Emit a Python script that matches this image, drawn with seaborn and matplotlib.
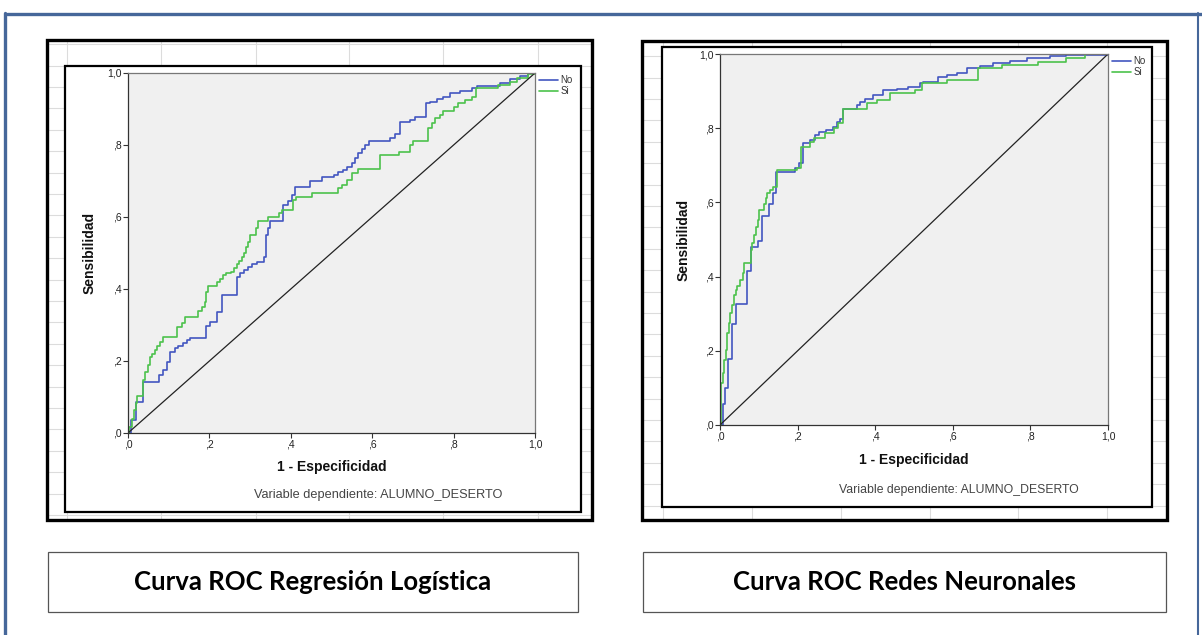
import matplotlib
matplotlib.use("Agg")
import matplotlib.pyplot as plt
from matplotlib.patches import Rectangle
from matplotlib.lines import Line2D
import seaborn as sns
import pandas as pd

# ---------------- data ----------------
tick_vals = [0.0, 0.2, 0.4, 0.6, 0.8, 1.0]
tick_labels = [",0", ",2", ",4", ",6", ",8", "1,0"]
series_labels = ["No", "Si"]

# Regresión Logística
lr_no_fpr = [0, 0.007, 0.02, 0.036, 0.077, 0.085, 0.095, 0.103, 0.115, 0.124, 0.136, 0.144, 0.152, 0.192,
             0.201, 0.218, 0.23, 0.267, 0.275, 0.285, 0.295, 0.304, 0.316, 0.334, 0.338, 0.343, 0.35, 0.382,
             0.392, 0.402, 0.41, 0.447, 0.476, 0.505, 0.517, 0.529, 0.537, 0.55, 0.558, 0.566, 0.574, 0.583,
             0.591, 0.644, 0.656, 0.668, 0.693, 0.705, 0.732, 0.742, 0.758, 0.775, 0.791, 0.816, 0.845, 0.857,
             0.914, 0.939, 0.963, 0.984, 1.0]
lr_no_tpr = [0, 0.036, 0.085, 0.143, 0.16, 0.175, 0.198, 0.226, 0.235, 0.242, 0.249, 0.258, 0.263, 0.297,
             0.309, 0.337, 0.383, 0.432, 0.444, 0.453, 0.462, 0.469, 0.476, 0.49, 0.55, 0.57, 0.59, 0.633,
             0.645, 0.661, 0.684, 0.70, 0.71, 0.717, 0.726, 0.73, 0.74, 0.75, 0.763, 0.777, 0.79, 0.80,
             0.81, 0.82, 0.83, 0.863, 0.87, 0.879, 0.916, 0.92, 0.927, 0.934, 0.944, 0.951, 0.957, 0.964,
             0.971, 0.982, 0.992, 0.999, 1.0]
lr_si_fpr = [0, 0.003, 0.009, 0.015, 0.02, 0.023, 0.036, 0.042, 0.048, 0.053, 0.058, 0.066, 0.072, 0.078,
             0.087, 0.121, 0.132, 0.14, 0.173, 0.181, 0.189, 0.191, 0.197, 0.218, 0.226, 0.234, 0.242, 0.252,
             0.26, 0.267, 0.273, 0.279, 0.284, 0.289, 0.296, 0.30, 0.315, 0.32, 0.345, 0.37, 0.378, 0.406,
             0.414, 0.451, 0.517, 0.525, 0.537, 0.55, 0.566, 0.618, 0.667, 0.693, 0.701, 0.738, 0.746, 0.755,
             0.767, 0.775, 0.80, 0.812, 0.828, 0.845, 0.855, 0.91, 0.939, 0.955, 0.984, 1.0]
lr_si_tpr = [0, 0.018, 0.04, 0.064, 0.082, 0.103, 0.147, 0.17, 0.19, 0.212, 0.22, 0.23, 0.242, 0.254,
             0.268, 0.294, 0.305, 0.323, 0.34, 0.351, 0.365, 0.393, 0.408, 0.42, 0.427, 0.439, 0.444, 0.448,
             0.457, 0.469, 0.479, 0.49, 0.50, 0.516, 0.53, 0.55, 0.57, 0.59, 0.60, 0.61, 0.62, 0.647,
             0.656, 0.666, 0.68, 0.689, 0.703, 0.721, 0.732, 0.772, 0.781, 0.80, 0.812, 0.846, 0.86, 0.874,
             0.883, 0.895, 0.906, 0.916, 0.925, 0.934, 0.957, 0.967, 0.976, 0.985, 0.997, 1.0]

# Redes Neuronales
nn_no_fpr = [0, 0.007, 0.013, 0.021, 0.031, 0.041, 0.07, 0.079, 0.099, 0.109, 0.127, 0.137, 0.144, 0.193,
             0.203, 0.213, 0.232, 0.245, 0.254, 0.273, 0.292, 0.301, 0.309, 0.318, 0.352, 0.361, 0.374, 0.395,
             0.421, 0.455, 0.485, 0.515, 0.524, 0.563, 0.584, 0.61, 0.636, 0.67, 0.704, 0.747, 0.79, 0.85,
             0.893, 1.0]
nn_no_tpr = [0, 0.057, 0.10, 0.177, 0.272, 0.326, 0.416, 0.48, 0.496, 0.563, 0.596, 0.624, 0.683, 0.692,
             0.705, 0.759, 0.768, 0.782, 0.791, 0.795, 0.802, 0.817, 0.826, 0.853, 0.862, 0.871, 0.88, 0.889,
             0.903, 0.907, 0.912, 0.921, 0.925, 0.939, 0.943, 0.95, 0.961, 0.967, 0.975, 0.982, 0.988, 0.995,
             0.998, 1.0]
nn_si_fpr = [0, 0.002, 0.007, 0.01, 0.015, 0.019, 0.023, 0.027, 0.032, 0.036, 0.04, 0.045, 0.052, 0.058,
             0.063, 0.079, 0.083, 0.088, 0.093, 0.097, 0.101, 0.113, 0.119, 0.122, 0.129, 0.137, 0.146, 0.198,
             0.21, 0.232, 0.242, 0.27, 0.295, 0.305, 0.316, 0.378, 0.404, 0.438, 0.503, 0.52, 0.584, 0.666,
             0.726, 0.82, 0.893, 0.94, 1.0]
nn_si_tpr = [0, 0.112, 0.14, 0.175, 0.202, 0.247, 0.274, 0.301, 0.323, 0.35, 0.364, 0.375, 0.39, 0.409,
             0.437, 0.472, 0.49, 0.512, 0.535, 0.553, 0.58, 0.597, 0.611, 0.624, 0.633, 0.642, 0.686, 0.692,
             0.75, 0.764, 0.773, 0.788, 0.80, 0.815, 0.853, 0.867, 0.876, 0.894, 0.903, 0.921, 0.93, 0.961,
             0.97, 0.979, 0.988, 1.0, 1.0]

diag = [0.0, 1.0]

x_title = "1 - Especificidad"
y_title = "Sensibilidad"
note = "Variable dependiente: ALUMNO_DESERTO"
captions = ["Curva ROC Regresión Logística", "Curva ROC Redes Neuronales"]

# ---------------- style ----------------
sns.set_theme(style="white")
plt.rcParams["font.family"] = ["Liberation Sans", "DejaVu Sans"]

W, H = 1202, 635
fig = plt.figure(figsize=(W / 100, H / 100), dpi=100)
fig.patch.set_facecolor("white")

BLUE = "#4256c0"
GREEN = "#4cc24c"
FRAME = "#46679a"


def fx(x):
    return x / W


def fy(y):
    return 1 - y / H


def rect(x0, y0, x1, y1, **kw):
    r = Rectangle((fx(x0), fy(y1)), fx(x1) - fx(x0), fy(y0) - fy(y1),
                  transform=fig.transFigure, **kw)
    fig.add_artist(r)


def hline(x0, x1, y, **kw):
    fig.add_artist(Line2D([fx(x0), fx(x1)], [fy(y), fy(y)], transform=fig.transFigure, **kw))


def vline(x, y0, y1, **kw):
    fig.add_artist(Line2D([fx(x), fx(x)], [fy(y0), fy(y1)], transform=fig.transFigure, **kw))


# page frame (blue)
hline(7, W, 14, color=FRAME, lw=2.4, zorder=-1)
vline(5, 13, H, color=FRAME, lw=2.4, zorder=-1)
vline(1198, 13, H, color=FRAME, lw=1.5, zorder=-1)

panels = [
    dict(outer=(47, 40, 592, 520), inner=(65, 66, 581, 512), plot=(128, 73, 535, 433),
         hgrid0=408, vgrid=[67, 161, 256, 349, 443, 538], note_xy=(378, 495), note_fs=9.2,
         no=(lr_no_fpr, lr_no_tpr), si=(lr_si_fpr, lr_si_tpr)),
    dict(outer=(642, 41, 1167, 520), inner=(662, 47, 1152, 507), plot=(720, 54, 1108, 425),
         hgrid0=420, vgrid=[663, 752, 841, 930, 1018, 1107], note_xy=(959, 490), note_fs=8.8,
         no=(nn_no_fpr, nn_no_tpr), si=(nn_si_fpr, nn_si_tpr)),
]

for p in panels:
    ox0, oy0, ox1, oy1 = p["outer"]
    ix0, iy0, ix1, iy1 = p["inner"]
    # spreadsheet grid in background
    y = p["hgrid0"]
    while y > oy0:
        y -= 21.4
    y += 21.4
    while y < oy1:
        hline(ox0, ox1, y, color="#dcdcdc", lw=0.8, zorder=-4)
        y += 21.4
    for vx in p["vgrid"]:
        vline(vx, oy0, oy1, color="#dcdcdc", lw=0.8, zorder=-4)
    rect(ox0, oy0, ox1, oy1, fill=False, edgecolor="black", lw=2.4, zorder=-2)
    rect(ix0, iy0, ix1, iy1, facecolor="white", edgecolor="black", lw=1.6, zorder=-1)

    px0, py0, px1, py1 = p["plot"]
    ax = fig.add_axes([fx(px0), fy(py1), fx(px1) - fx(px0), fy(py0) - fy(py1)])
    ax.set_facecolor("#f0f0f0")

    d_no = pd.DataFrame({"fpr": p["no"][0], "tpr": p["no"][1]})
    d_si = pd.DataFrame({"fpr": p["si"][0], "tpr": p["si"][1]})
    sns.lineplot(data=d_no, x="fpr", y="tpr", ax=ax, color=BLUE, lw=1.2, sort=False,
                 estimator=None, drawstyle="steps-post", label=series_labels[0])
    sns.lineplot(data=d_si, x="fpr", y="tpr", ax=ax, color=GREEN, lw=1.2, sort=False,
                 estimator=None, drawstyle="steps-post", label=series_labels[1])
    sns.lineplot(x=diag, y=diag, ax=ax, color="#222222", lw=0.9, sort=False, estimator=None)

    ax.set_xlim(0, 1)
    ax.set_ylim(0, 1)
    ax.set_xticks(tick_vals)
    ax.set_xticklabels(tick_labels)
    ax.set_yticks(tick_vals)
    ax.set_yticklabels(tick_labels)
    ax.tick_params(axis="both", direction="out", length=3.5, width=0.8, color="#333333",
                   labelsize=7.5, pad=1, labelcolor="#222222")
    ax.tick_params(axis="both", which="both", bottom=True, left=True)
    for s in ["left", "bottom"]:
        ax.spines[s].set_color("#333333")
        ax.spines[s].set_linewidth(0.9)
    for s in ["top", "right"]:
        ax.spines[s].set_color("#777777")
        ax.spines[s].set_linewidth(0.9)

    ax.set_xlabel(x_title, fontsize=10, fontweight="bold", color="#111111")
    ax.set_ylabel(y_title, fontsize=10, fontweight="bold", color="#111111")
    ax.xaxis.set_label_coords(0.5, -0.075)
    ax.yaxis.set_label_coords(-0.076, 0.5)

    leg = ax.legend(loc="upper left", bbox_to_anchor=(1.005, 1.0), frameon=False, fontsize=7,
                    handlelength=2.0, handletextpad=0.2, labelspacing=0.15, borderaxespad=0,
                    borderpad=0.2)
    for t in leg.get_texts():
        t.set_color("#333333")

    fig.text(fx(p["note_xy"][0]), fy(p["note_xy"][1]), note, ha="center", va="center",
             fontsize=p["note_fs"], color="#444444")

# caption boxes
cap_boxes = [(48, 552, 578, 612), (643, 552, 1166, 612)]
for (x0, y0, x1, y1), txt in zip(cap_boxes, captions):
    rect(x0, y0, x1, y1, fill=False, edgecolor="#555555", lw=0.9, zorder=1)
    fig.text(fx((x0 + x1) / 2), fy((y0 + y1) / 2), txt, ha="center", va="center",
             fontsize=18.5, fontweight="bold", family=["Lato", "DejaVu Sans"], color="black")

fig.savefig("out.png", dpi=100)
